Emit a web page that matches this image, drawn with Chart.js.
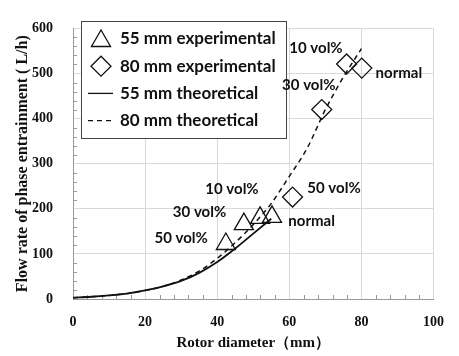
<!DOCTYPE html>
<html>
<head>
<meta charset="utf-8">
<script src="https://cdn.jsdelivr.net/npm/chart.js@4.4.0/dist/chart.umd.min.js"></script>
<style>
  html, body { margin: 0; padding: 0; background: #fff; }
</style>
</head>
<body>
<canvas id="grafico" width="459" height="356"></canvas>
<script>
// Datos
const diam55 = [42.4, 47.4, 51.9, 55.2];
const flujo55 = [122, 166, 180, 182];
const diam80 = [60.9, 69, 75.9, 80.1];
const flujo80 = [226, 420, 521, 512];

const teoX55 = [0, 5, 10, 15, 20, 25, 30, 35, 40, 45, 50, 55];
const teoY55 = [3, 5, 8, 12, 19, 28, 40, 58, 82, 112, 145, 178];
const teoX80 = [0, 5, 10, 15, 20, 25, 30, 35, 40, 45, 50, 55, 60, 65, 70, 75, 80];
const teoY80 = [3, 5, 8, 12, 19, 28, 42, 62, 90, 125, 165, 212, 272, 335, 420, 492, 555];

const nombres = ['55 mm experimental', '80 mm experimental', '55 mm theoretical', '80 mm theoretical'];

// etiquetas de cada punto (texto, x, y en unidades del grafico)
const notas = [
    ['10 vol%', 44.1, 244],
    ['30 vol%', 35.1, 192],
    ['50 vol%', 30, 135],
    ['normal', 66.2, 173],
    ['10 vol%', 67.4, 556],
    ['30 vol%', 65.4, 474],
    ['50 vol%', 72.4, 246],
    ['normal', 90.4, 501]
];

const pasoMenorX = 4;
const pasoMenorY = 20;

function pares(xs, ys) {
    return xs.map((x, i) => ({ x: x, y: ys[i] }));
}

// marcas menores hacia adentro
const marcasMenores = {
    id: 'marcasMenores',
    beforeDatasetsDraw(chart) {
        const { ctx, chartArea, scales } = chart;
        ctx.save();
        ctx.strokeStyle = '#999';
        ctx.lineWidth = 1;
        ctx.beginPath();
        for (let v = 0; v <= 100; v += pasoMenorX) {
            if (v % 20 === 0) continue;
            const px = Math.round(scales.x.getPixelForValue(v)) + 0.5;
            ctx.moveTo(px, chartArea.bottom);
            ctx.lineTo(px, chartArea.bottom - 4);
        }
        for (let v = 0; v <= 600; v += pasoMenorY) {
            if (v % 100 === 0) continue;
            const py = Math.round(scales.y.getPixelForValue(v)) + 0.5;
            ctx.moveTo(chartArea.left, py);
            ctx.lineTo(chartArea.left + 4, py);
        }
        ctx.stroke();
        ctx.restore();
    }
};

// leyenda dentro del area
const leyenda = {
    id: 'leyenda',
    afterDatasetsDraw(chart) {
        const ctx = chart.ctx;
        const x0 = 81, y0 = 21, w = 205, h = 117;
        ctx.save();
        ctx.fillStyle = '#fff';
        ctx.fillRect(x0, y0, w, h);
        ctx.strokeStyle = '#444';
        ctx.lineWidth = 1;
        ctx.strokeRect(x0 + 0.5, y0 + 0.5, w, h);
        chart.data.datasets.forEach((ds, i) => {
            const cy = y0 + 18 + i * 27.2;
            const cx = 101;
            ctx.strokeStyle = '#111';
            ctx.lineWidth = 1.3;
            if (ds.showLine) {
                ctx.setLineDash(ds.borderDash || []);
                ctx.beginPath();
                ctx.moveTo(cx - 13, cy);
                ctx.lineTo(cx + 12, cy);
                ctx.stroke();
                ctx.setLineDash([]);
            } else {
                ctx.fillStyle = '#fff';
                Chart.helpers.drawPoint(ctx, {
                    pointStyle: ds.pointStyle,
                    radius: ds.pointRadius,
                    borderWidth: 1.3
                }, cx, cy + (ds.pointStyle === 'triangle' ? 2 : 0));
            }
            ctx.fillStyle = '#111';
            ctx.font = "bold 17px Lato, sans-serif";
            ctx.textAlign = 'left';
            ctx.textBaseline = 'middle';
            ctx.fillText(ds.label, 120, cy);
        });
        ctx.restore();
    }
};

// textos vol% y normal
const textos = {
    id: 'textos',
    afterDatasetsDraw(chart) {
        const { ctx, scales } = chart;
        ctx.save();
        ctx.font = "bold 15px Lato, sans-serif";
        ctx.fillStyle = '#111';
        ctx.textAlign = 'center';
        ctx.textBaseline = 'middle';
        notas.forEach(n => {
            ctx.fillText(n[0], scales.x.getPixelForValue(n[1]), scales.y.getPixelForValue(n[2]));
        });
        ctx.restore();
    }
};

const fuenteEje = { family: "'Liberation Serif', 'Times New Roman', serif", weight: 'bold', size: 14 };

new Chart(document.getElementById('grafico'), {
    type: 'scatter',
    data: {
        datasets: [
            {
                label: nombres[0],
                data: pares(diam55, flujo55),
                pointStyle: 'triangle',
                pointRadius: 11,
                pointBorderWidth: 1.3,
                borderColor: '#111',
                backgroundColor: 'rgba(0,0,0,0)',
                showLine: false
            },
            {
                label: nombres[1],
                data: pares(diam80, flujo80),
                pointStyle: 'rectRot',
                pointRadius: 10,
                pointBorderWidth: 1.3,
                borderColor: '#111',
                backgroundColor: 'rgba(0,0,0,0)',
                showLine: false
            },
            {
                label: nombres[2],
                data: pares(teoX55, teoY55),
                showLine: true,
                pointRadius: 0,
                borderColor: '#111',
                borderWidth: 1.8,
                cubicInterpolationMode: 'monotone'
            },
            {
                label: nombres[3],
                data: pares(teoX80, teoY80),
                showLine: true,
                pointRadius: 0,
                borderColor: '#111',
                borderWidth: 1.5,
                borderDash: [5, 4],
                cubicInterpolationMode: 'monotone'
            }
        ]
    },
    options: {
        responsive: false,
        animation: false,
        devicePixelRatio: 1,
        layout: { padding: { left: 0, right: 16, top: 14, bottom: 0 } },
        plugins: {
            legend: { display: false },
            tooltip: { enabled: false }
        },
        scales: {
            x: {
                min: 0,
                max: 100,
                ticks: { stepSize: 20, color: '#111', font: fuenteEje, padding: 15, maxRotation: 0 },
                grid: { color: '#d9d9d9', drawTicks: false },
                border: { color: '#999' },
                title: {
                    display: true,
                    text: 'Rotor diameter（mm）',
                    color: '#111',
                    font: { family: "'Liberation Serif', 'Times New Roman', serif", weight: 'bold', size: 15 },
                    padding: { top: 0, bottom: 4 }
                },
                afterFit: s => { s.height = 57; }
            },
            y: {
                min: 0,
                max: 600,
                ticks: { stepSize: 100, color: '#111', font: fuenteEje, padding: 20 },
                grid: { color: '#d9d9d9', drawTicks: false },
                border: { color: '#999' },
                title: {
                    display: true,
                    text: 'Flow rate of phase entrainment ( L/h)',
                    color: '#111',
                    font: { family: "'Liberation Serif', 'Times New Roman', serif", weight: 'bold', size: 16 },
                    padding: { top: 13, bottom: 0 }
                },
                afterFit: s => { s.width = 73; }
            }
        }
    },
    plugins: [marcasMenores, leyenda, textos]
});
</script>
</body>
</html>
